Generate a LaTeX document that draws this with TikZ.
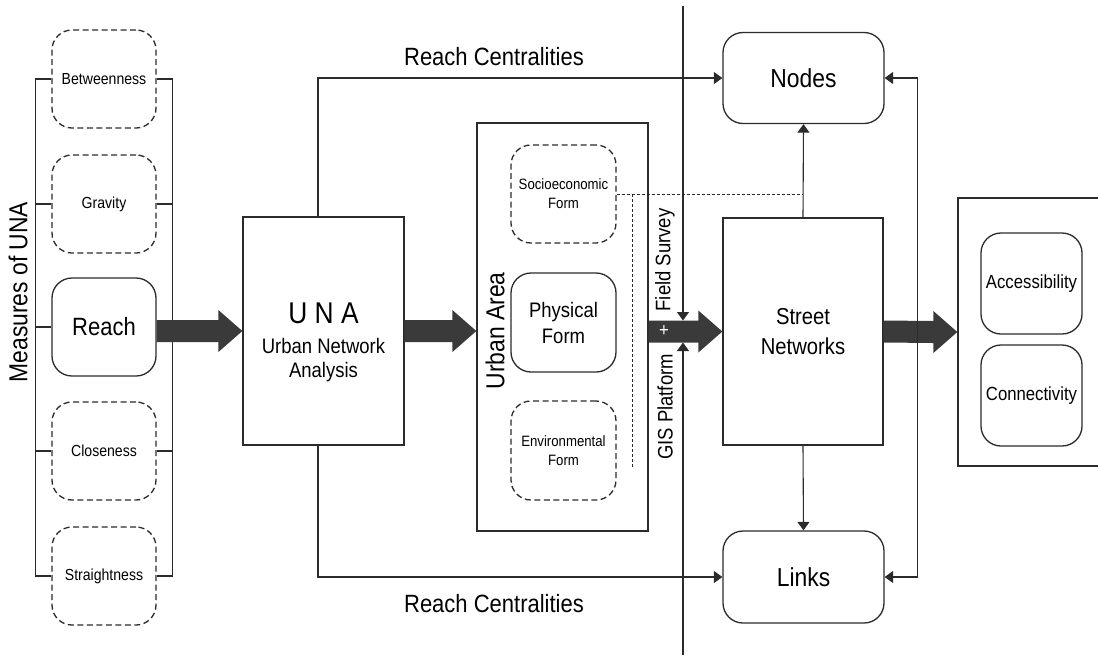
\documentclass[tikz,border=0pt]{standalone}
\usepackage{fontspec}
\setmainfont{Liberation Sans}[FakeStretch=0.88]
\usetikzlibrary{arrows.meta,calc}
\definecolor{ln}{HTML}{2B2B2B}
\definecolor{bigc}{HTML}{3A3A3A}
\newcommand{\myfs}[2]{\fontsize{#1}{#2}\selectfont}
% big block arrow between two points (start, end), horizontal
\newcommand{\BigArrow}[2]{%
  \fill[bigc] ($#1+(0,-11)$) -- ($#2+(-24,-11)$) -- ($#2+(-24,-21)$) -- #2
    -- ($#2+(-24,21)$) -- ($#2+(-24,11)$) -- ($#1+(0,11)$) -- cycle;}
\begin{document}
\begin{tikzpicture}[x=1pt,y=-1pt,
  base/.style={draw=ln, line width=1.3pt, inner sep=0pt, align=center},
  dbox/.style={base, dash pattern=on 6pt off 3.5pt, rounded corners=20pt},
  sbox/.style={base, rounded corners=20pt},
  rbox/.style={base},
  conn/.style={draw=ln, line width=1.1pt},
  arr/.style={conn, -{Triangle[length=8.5pt,width=12pt]}},
  darr/.style={conn, {Triangle[length=8.5pt,width=12pt]}-{Triangle[length=8.5pt,width=12pt]}},
  fdash/.style={draw=ln, line width=1pt, dash pattern=on 3pt off 2pt},
  lbl/.style={inner sep=0pt, text=black}
]
\path[use as bounding box, clip] (0,0) rectangle (1098,657);

% ---------- Measures of UNA ----------
\node[dbox, minimum width=104, minimum height=98, font=\myfs{16}{19}] (btw) at (104,79) {Betweenness};
\node[dbox, minimum width=104, minimum height=98, font=\myfs{16}{19}] (grav) at (104,204) {Gravity};
\node[sbox, minimum width=104, minimum height=98, font=\myfs{25}{30}] (reach) at (104,327) {Reach};
\node[dbox, minimum width=104, minimum height=98, font=\myfs{16}{19}] (clo) at (104,451) {Closeness};
\node[dbox, minimum width=104, minimum height=98, font=\myfs{16}{19}] (str) at (104,576) {Straightness};
\draw[conn] (btw.west) -- ++(-16,0) |- (str.west);
\draw[conn] (grav.west) -- ++(-16,0);
\draw[conn] (reach.west) -- ++(-16,0);
\draw[conn] (clo.west) -- ++(-16,0);
\draw[conn] (btw.east) -- ++(16,0) |- (str.east);
\draw[conn] (grav.east) -- ++(16,0);
\draw[conn] (clo.east) -- ++(16,0);
\node[lbl, rotate=90, font=\myfs{26}{30}] (meas) at (18,292) {Measures of UNA};

% ---------- UNA ----------
\node[rbox, minimum width=161, minimum height=228] (una) at (323.5,331) {};
\node[lbl, font=\myfs{30}{34}] (una1) at (323.5,313) {U N A};
\node[lbl, font=\myfs{21}{25}] (una2) at (323.5,346) {Urban Network};
\node[lbl, font=\myfs{21}{25}] (una3) at (323.5,372) {Analysis};

% ---------- Urban Area ----------
\node[rbox, minimum width=171, minimum height=408] (urban) at (562.5,327) {};
\node[lbl, rotate=90, font=\myfs{26}{30}] (uatxt) at (495,331) {Urban Area};
\node[dbox, minimum width=105, minimum height=98, font=\myfs{15}{19}] (socio) at (563.5,194) {Socioeconomic\\Form};
\node[sbox, minimum width=105, minimum height=99, font=\myfs{21}{26}] (phys) at (563.5,322.5) {Physical\\Form};
\node[dbox, minimum width=105, minimum height=99, font=\myfs{15}{19}] (env) at (563.5,450.5) {Environmental\\Form};

% ---------- Street networks, Nodes, Links ----------
\node[rbox, minimum width=160, minimum height=227, font=\myfs{23}{30}] (sn) at (803,331.5) {Street\\Networks};
\node[sbox, minimum width=161, minimum height=91, font=\myfs{26}{30}] (nodes) at (803.5,78) {Nodes};
\node[sbox, minimum width=161, minimum height=92, font=\myfs{26}{30}] (links) at (803.5,577) {Links};

% ---------- Outcomes ----------
\node[rbox, minimum width=180, minimum height=268] (out) at (1048,332) {};
\node[sbox, minimum width=101, minimum height=101, font=\myfs{19}{23}] (acc) at (1031.5,283.5) {Accessibility};
\node[sbox, minimum width=101, minimum height=101, font=\myfs{19}{23}] (con) at (1031.5,395.5) {Connectivity};

% ---------- Reach centralities ----------
\draw[arr] ($(una.north)+(-5.5,0)$) |- (nodes.west);
\draw[arr] ($(una.south)+(-5.5,0)$) |- (links.west);
\node[lbl, font=\myfs{25}{30}] (rc1) at (494,57) {Reach Centralities};
\node[lbl, font=\myfs{25}{30}] (rc2) at (494,604) {Reach Centralities};

% ---------- dashed links from forms ----------
\coordinate (sd) at ($(socio.east)+(16,0)$);
\coordinate (ed) at ($(env.east)+(16,16)$);
\draw[fdash] (socio.east) -- (socio.east -| sn.north);
\draw[fdash] (sd) -- (sd |- ed);
\draw[fdash] ($(env.east)+(0,16)$) -- ($(env.east)+(0,16)$ -| sn.south);

% ---------- big arrows ----------
\BigArrow{(reach.east |- una.west)}{(una.west)}
\BigArrow{(una.east)}{(urban.west |- una.east)}
\BigArrow{(urban.east |- sn.west)}{(sn.west)}
\BigArrow{(sn.east)}{(out.west)}
\node[lbl, text=white, font=\myfs{19}{22}] (plus) at (664,331) {+};

% ---------- field survey / GIS platform ----------
\coordinate (fstop) at (683,6);
\coordinate (gisbot) at (683,655);
\draw[arr] (fstop) -- (fstop |- 0,320.5);
\draw[arr] (gisbot) -- (gisbot |- 0,342.5);
\node[lbl, rotate=90, font=\myfs{21}{25}] (fs) at (665,260) {Field Survey};
\node[lbl, rotate=90, font=\myfs{21}{25}] (gis) at (665,407) {GIS Platform};

% ---------- street networks to nodes / links ----------
\draw[arr] (sn.north) -- (nodes.south);
\draw[arr] (sn.south) -- (links.north);
\draw[darr] (nodes.east) -- ++(33,0) |- (links.east);
\end{tikzpicture}
\end{document}
